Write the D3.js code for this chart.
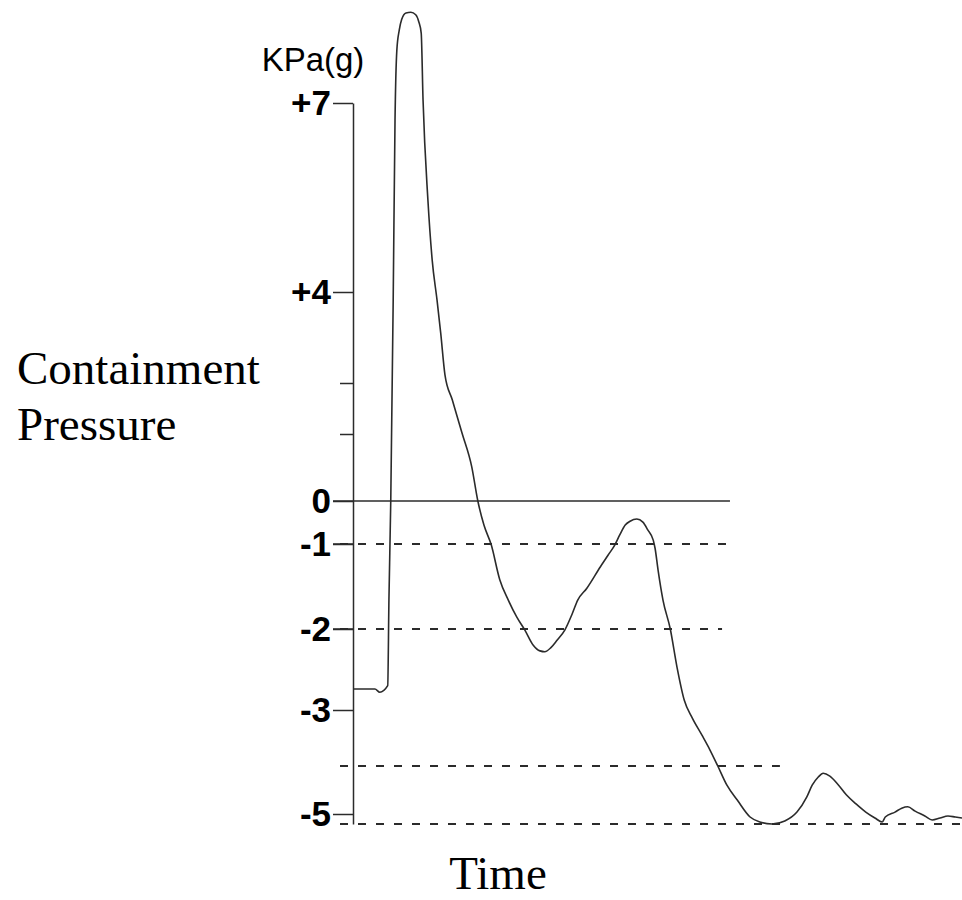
<!DOCTYPE html>
<html>
<head>
<meta charset="utf-8">
<script src="https://cdn.jsdelivr.net/npm/d3@7"></script>
<style>
  html, body { margin: 0; padding: 0; background: #fff; }
  svg { display: block; }
</style>
</head>
<body>
<svg id="chart" width="962" height="900"></svg>
<script>
// ---- data ----
// schematic (non-linear) pressure axis breakpoints, kPa(g)
const axisBreaks = [-5.2, -5, -4, -3, -2, -1, 0, 1, 2, 4, 7];
const labeledTicks = [7, 4, 0, -1, -2, -3, -5];
const tickLabels = ["+7", "+4", "0", "-1", "-2", "-3", "-5"];
const minorTicks = [2, 1];
// reference lines: value, end time (same time units as the curve)
const refValues = [0, -1, -2, -4, -5.2];
const refEnds = [61.9, 61.9, 60.6, 70.1, 100];
const refDashed = [false, true, true, true, true];

// pressure transient
const time = [0, 3.6, 4.4, 5.7, 5.9, 6.2, 6.6, 6.9, 7.2, 7.6, 8.0, 8.7, 9.5, 10.3, 10.8, 11.2, 11.5, 12.3, 13.0, 13.8,
  14.4, 15.1, 16.3, 17.9, 19.5, 20.5, 21.5, 22.7, 24.1, 25.5, 26.9, 28.2, 29.6, 30.7, 31.5, 32.5, 33.5, 34.8, 36.0, 36.9,
  38.4, 40.6, 41.9, 43.0, 43.8, 44.7, 45.5, 46.6, 47.6, 48.4, 49.3, 49.6, 50.1, 50.9, 52.1, 53.2, 54.4, 55.7, 57.3, 58.6,
  59.9, 61.4, 63.1, 65.2, 66.8, 68.8, 70.9, 72.9, 74.5, 75.4, 76.4, 77.2, 78.3, 79.6, 81.0, 82.6, 84.2, 85.7, 86.9, 87.4,
  89.0, 90.1, 91.1, 92.3, 93.9, 95.1, 96.4, 97.7, 98.9, 100];
const pressure = [-2.74, -2.74, -2.78, -2.70, -1.66, 0, 3.82, 6.73, 7.84, 8.16, 8.33, 8.43, 8.44, 8.40, 8.29, 8.11, 7.05, 5.46, 4.51, 3.82,
  3.10, 2.18, 1.67, 1.02, 0.51, 0, -0.56, -1.01, -1.42, -1.66, -1.86, -2.01, -2.20, -2.27, -2.28, -2.23, -2.14, -2.01, -1.82, -1.66,
  -1.52, -1.27, -1.13, -1.01, -0.79, -0.56, -0.47, -0.42, -0.49, -0.67, -0.91, -1.05, -1.31, -1.66, -2.00, -2.47, -2.88, -3.14, -3.45, -3.71,
  -4.00, -4.40, -4.71, -5.06, -5.16, -5.2, -5.14, -4.96, -4.65, -4.40, -4.23, -4.15, -4.21, -4.38, -4.60, -4.79, -4.96, -5.08, -5.16, -5.06,
  -4.96, -4.88, -4.85, -4.94, -5.04, -5.12, -5.08, -5.04, -5.06, -5.08];

const yTitle = ["Containment", "Pressure"];
const xTitle = "Time";
const unitLabel = "KPa(g)";

// ---- layout ----
const svg = d3.select("#chart");
const axisX = 353;
const x = d3.scaleLinear().domain([0, 100]).range([axisX, 962]);
const y = d3.scaleLinear().domain(axisBreaks).range([824, 814, 766, 710, 629, 544, 501, 434, 383, 292, 103]);
const ink = "#2b2b2b";

// reference lines
refValues.forEach((v, i) => {
  svg.append("line")
    .attr("x1", refDashed[i] ? axisX - 13 : axisX - 20)
    .attr("x2", x(refEnds[i]))
    .attr("y1", y(v)).attr("y2", y(v))
    .attr("stroke", ink)
    .attr("stroke-width", refDashed[i] ? 2 : 1.5)
    .attr("stroke-dasharray", refDashed[i] ? "8,10" : null);
});
// solid stubs on labeled dashed lines
[-1, -2].forEach(v => {
  svg.append("line").attr("x1", axisX - 20).attr("x2", axisX)
    .attr("y1", y(v)).attr("y2", y(v)).attr("stroke", ink).attr("stroke-width", 1.5);
});

// main axis
const yAxis = d3.axisLeft(y)
  .tickValues(labeledTicks)
  .tickSize(20)
  .tickSizeOuter(0)
  .tickPadding(2)
  .tickFormat((d, i) => tickLabels[i]);
const ga = svg.append("g").attr("transform", `translate(${axisX},0)`).call(yAxis);
ga.select(".domain").attr("stroke", ink).attr("stroke-width", 1.5);
ga.selectAll(".tick line").attr("stroke", ink).attr("stroke-width", 1.5);
ga.selectAll(".tick text")
  .attr("fill", "#000")
  .style("font-family", "'Liberation Sans', Arial, sans-serif")
  .style("font-weight", "bold")
  .style("font-size", "35px");

// minor ticks
const gm = svg.append("g").attr("transform", `translate(${axisX},0)`)
  .call(d3.axisLeft(y).tickValues(minorTicks).tickSize(13).tickFormat(""));
gm.select(".domain").remove();
gm.selectAll(".tick line").attr("stroke", ink).attr("stroke-width", 1.5);

// curve
const pts = time.map((t, i) => [t, pressure[i]]);
svg.append("path")
  .datum(pts)
  .attr("fill", "none")
  .attr("stroke", ink)
  .attr("stroke-width", 1.6)
  .attr("d", d3.line().x(d => x(d[0])).y(d => y(d[1])).curve(d3.curveMonotoneX));

// texts
svg.append("text").attr("x", 313).attr("y", 71)
  .attr("text-anchor", "middle")
  .style("font-family", "'Liberation Sans', Arial, sans-serif")
  .style("font-size", "33px").text(unitLabel);

svg.append("g").selectAll("text").data(yTitle).join("text")
  .attr("x", 17).attr("y", (d, i) => 384 + i * 56)
  .style("font-family", "'Liberation Serif', 'Times New Roman', serif")
  .style("font-size", "47px")
  .text(d => d);

svg.append("text").attr("x", 498).attr("y", 889)
  .attr("text-anchor", "middle")
  .style("font-family", "'Liberation Serif', 'Times New Roman', serif")
  .style("font-size", "47px").text(xTitle);
</script>
</body>
</html>
